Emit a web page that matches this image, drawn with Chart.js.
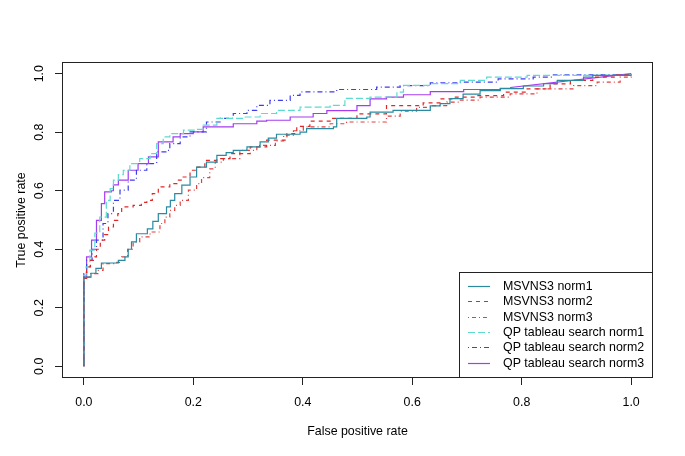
<!DOCTYPE html>
<html>
<head>
<meta charset="utf-8">
<title>ROC curves</title>
<script src="https://cdn.jsdelivr.net/npm/chart.js@4.4.1/dist/chart.umd.min.js"></script>
<style>
  html, body { margin: 0; padding: 0; background: #fff; }
  #rocChart { display: block; }
</style>
</head>
<body>
<canvas id="rocChart" width="685" height="456"></canvas>
<script>
// tick labels for both axes
const tickValues = [0, 0.2, 0.4, 0.6, 0.8, 1.0];

// ROC step points (fpr = x, tpr = y)
const msvns1Fpr = [0, 0, 0.013, 0.022, 0.032, 0.063, 0.075, 0.081, 0.087, 0.096, 0.116, 0.126, 0.136, 0.151, 0.158, 0.166, 0.179, 0.194, 0.206, 0.224, 0.243, 0.26, 0.273, 0.298, 0.322, 0.337, 0.352, 0.395, 0.407, 0.456, 0.462, 0.517, 0.523, 0.565, 0.633, 0.651, 0.669, 0.693, 0.724, 0.761, 0.803, 0.84, 0.865, 0.913, 0.93, 1];
const msvns1Tpr = [0, 0.305, 0.318, 0.335, 0.353, 0.362, 0.374, 0.4, 0.425, 0.453, 0.47, 0.495, 0.522, 0.545, 0.567, 0.59, 0.619, 0.647, 0.681, 0.698, 0.721, 0.73, 0.738, 0.75, 0.767, 0.78, 0.793, 0.8, 0.812, 0.818, 0.847, 0.852, 0.869, 0.875, 0.89, 0.898, 0.915, 0.93, 0.942, 0.949, 0.958, 0.966, 0.977, 0.988, 0.994, 1];

const msvns2Fpr = [0, 0, 0.005, 0.012, 0.02, 0.023, 0.03, 0.038, 0.045, 0.054, 0.062, 0.069, 0.09, 0.105, 0.115, 0.125, 0.136, 0.157, 0.17, 0.18, 0.194, 0.206, 0.221, 0.243, 0.267, 0.304, 0.334, 0.371, 0.389, 0.413, 0.45, 0.499, 0.553, 0.62, 0.651, 0.675, 0.72, 0.767, 0.81, 0.852, 0.889, 0.93, 0.974, 1];
const msvns2Tpr = [0, 0.3, 0.34, 0.362, 0.374, 0.4, 0.431, 0.45, 0.476, 0.499, 0.522, 0.545, 0.55, 0.56, 0.567, 0.59, 0.613, 0.624, 0.636, 0.647, 0.67, 0.681, 0.704, 0.71, 0.727, 0.75, 0.773, 0.795, 0.82, 0.838, 0.847, 0.863, 0.891, 0.9, 0.914, 0.92, 0.925, 0.937, 0.948, 0.965, 0.977, 0.988, 0.996, 1];

const msvns3Fpr = [0, 0, 0.011, 0.026, 0.035, 0.06, 0.069, 0.08, 0.09, 0.102, 0.121, 0.139, 0.148, 0.157, 0.166, 0.176, 0.191, 0.206, 0.215, 0.23, 0.24, 0.255, 0.285, 0.316, 0.35, 0.365, 0.383, 0.401, 0.45, 0.48, 0.553, 0.578, 0.608, 0.633, 0.663, 0.688, 0.724, 0.779, 0.828, 0.895, 0.938, 0.98, 1];
const msvns3Tpr = [0, 0.305, 0.317, 0.328, 0.351, 0.355, 0.374, 0.4, 0.425, 0.442, 0.459, 0.488, 0.51, 0.533, 0.55, 0.567, 0.602, 0.624, 0.645, 0.675, 0.698, 0.71, 0.738, 0.755, 0.77, 0.79, 0.805, 0.818, 0.829, 0.835, 0.855, 0.872, 0.885, 0.891, 0.903, 0.91, 0.92, 0.931, 0.948, 0.959, 0.971, 0.988, 1];

const qp1Fpr = [0, 0, 0.004, 0.011, 0.02, 0.029, 0.041, 0.048, 0.054, 0.063, 0.072, 0.084, 0.102, 0.121, 0.133, 0.145, 0.157, 0.182, 0.206, 0.218, 0.243, 0.291, 0.322, 0.352, 0.395, 0.45, 0.477, 0.523, 0.572, 0.584, 0.633, 0.688, 0.736, 0.81, 1];
const qp1Tpr = [0, 0.31, 0.34, 0.397, 0.455, 0.51, 0.567, 0.607, 0.636, 0.655, 0.67, 0.693, 0.71, 0.727, 0.761, 0.784, 0.795, 0.807, 0.81, 0.824, 0.847, 0.852, 0.864, 0.875, 0.886, 0.892, 0.916, 0.92, 0.937, 0.96, 0.966, 0.977, 0.988, 0.994, 1];

const qp2Fpr = [0, 0, 0.005, 0.015, 0.023, 0.035, 0.044, 0.054, 0.066, 0.081, 0.096, 0.115, 0.133, 0.151, 0.157, 0.176, 0.194, 0.224, 0.249, 0.273, 0.298, 0.316, 0.34, 0.377, 0.395, 0.462, 0.535, 0.578, 0.633, 0.688, 0.757, 0.821, 0.858, 1];
const qp2Tpr = [0, 0.317, 0.362, 0.4, 0.431, 0.488, 0.522, 0.567, 0.602, 0.636, 0.67, 0.693, 0.733, 0.738, 0.761, 0.784, 0.801, 0.835, 0.847, 0.864, 0.875, 0.892, 0.909, 0.926, 0.938, 0.946, 0.954, 0.959, 0.969, 0.971, 0.982, 0.988, 0.996, 1];

const qp3Fpr = [0, 0, 0.005, 0.014, 0.023, 0.032, 0.038, 0.05, 0.054, 0.063, 0.081, 0.099, 0.118, 0.136, 0.163, 0.176, 0.2, 0.218, 0.273, 0.316, 0.334, 0.377, 0.419, 0.444, 0.499, 0.523, 0.553, 0.584, 0.633, 0.694, 0.761, 0.78];
const qp3Tpr = [0, 0.305, 0.374, 0.431, 0.499, 0.556, 0.596, 0.6, 0.62, 0.636, 0.67, 0.693, 0.716, 0.767, 0.784, 0.795, 0.801, 0.818, 0.829, 0.838, 0.841, 0.852, 0.864, 0.874, 0.891, 0.914, 0.92, 0.928, 0.939, 0.946, 0.95, 0.953];
// last purple segment is a straight tie line to the corner
const qp3Tail = [1, 1];

const seriesNames = ['MSVNS3 norm1', 'MSVNS3 norm2', 'MSVNS3 norm3',
  'QP tableau search norm1', 'QP tableau search norm2', 'QP tableau search norm3'];

// turn step points into corner points (horizontal, then vertical)
function stairs(xs, ys) {
  const pts = [{ x: xs[0], y: ys[0] }];
  for (let i = 1; i < xs.length; i++) {
    pts.push({ x: xs[i], y: ys[i - 1] });
    pts.push({ x: xs[i], y: ys[i] });
  }
  return pts;
}

const qp3Points = stairs(qp3Fpr, qp3Tpr);
qp3Points.push({ x: qp3Tail[0], y: qp3Tail[1] });

const FONT = "'Liberation Sans', Arial, Helvetica, sans-serif";
const FONT_SIZE = 12.4;
Chart.defaults.font.family = FONT;
Chart.defaults.font.size = FONT_SIZE;
Chart.defaults.color = '#000';

function line(label, data, color, dash) {
  return {
    label: label,
    data: data,
    borderColor: color,
    borderDash: dash,
    borderWidth: 1.2,
    pointRadius: 0,
    fill: false,
    tension: 0
  };
}

// R style frame, rotated y labels and boxed legend
const rStyle = {
  id: 'rStyle',
  afterDraw(chart) {
    const ctx = chart.ctx;
    const ca = chart.chartArea;
    const yScale = chart.scales.y;
    ctx.save();
    ctx.strokeStyle = '#222';
    ctx.lineWidth = 1;
    ctx.setLineDash([]);
    ctx.strokeRect(Math.round(ca.left) + 0.5, Math.round(ca.top) + 0.5,
      Math.round(ca.right - ca.left) - 1, Math.round(ca.bottom - ca.top) - 1);

    // y tick labels, rotated like base graphics
    ctx.fillStyle = '#000';
    ctx.font = FONT_SIZE + 'px ' + FONT;
    ctx.textAlign = 'center';
    ctx.textBaseline = 'middle';
    tickValues.forEach(v => {
      const py = yScale.getPixelForValue(v);
      ctx.save();
      ctx.translate(40, py);
      ctx.rotate(-Math.PI / 2);
      ctx.fillText(v.toFixed(1), 0, 0);
      ctx.restore();
    });

    // legend in the bottom right corner
    const boxW = 194, boxH = 106;
    const bx = Math.round(ca.right) - boxW, by = Math.round(ca.bottom) - boxH;
    ctx.strokeRect(bx + 0.5, by + 0.5, boxW - 1, boxH - 1);
    ctx.textAlign = 'left';
    chart.data.datasets.forEach((ds, i) => {
      const ly = Math.round(by + 14 + i * 15.3) + 0.5;
      ctx.strokeStyle = ds.borderColor;
      ctx.lineWidth = 1.2;
      ctx.setLineDash(ds.borderDash || []);
      ctx.beginPath();
      ctx.moveTo(bx + 9, ly);
      ctx.lineTo(bx + 31, ly);
      ctx.stroke();
      ctx.fillText(ds.label, bx + 44, ly);
    });
    ctx.restore();
  }
};

const canvasElement = document.getElementById('rocChart');
const rocChart = new Chart(canvasElement, {
  type: 'line',
  data: {
    datasets: [
      line(seriesNames[0], stairs(msvns1Fpr, msvns1Tpr), '#2a8aa0', []),
      line(seriesNames[1], stairs(msvns2Fpr, msvns2Tpr), '#e02828', [4, 4]),
      line(seriesNames[2], stairs(msvns3Fpr, msvns3Tpr), '#e04040', [1, 3, 4, 3]),
      line(seriesNames[3], stairs(qp1Fpr, qp1Tpr), '#5cdcd0', [7, 3]),
      line(seriesNames[4], stairs(qp2Fpr, qp2Tpr), '#3c3cf0', [1, 3, 5, 3]),
      line(seriesNames[5], qp3Points, '#a43cf0', [])
    ]
  },
  options: {
    responsive: false,
    animation: false,
    devicePixelRatio: 1,
    layout: { padding: { top: 62, right: 32, left: 0, bottom: 0 } },
    plugins: {
      legend: { display: false },
      tooltip: { enabled: false }
    },
    scales: {
      x: {
        type: 'linear',
        min: -0.04,
        max: 1.04,
        afterBuildTicks: s => { s.ticks = tickValues.map(v => ({ value: v })); },
        afterFit: s => { s.height = 78; },
        ticks: {
          callback: v => v.toFixed(1),
          padding: 10,
          maxRotation: 0,
          autoSkip: false,
          color: '#000'
        },
        grid: {
          display: true,
          drawOnChartArea: false,
          drawTicks: true,
          tickLength: 7,
          color: '#222'
        },
        border: { display: false },
        title: {
          display: true,
          text: 'False positive rate',
          color: '#000',
          padding: { top: 0, bottom: 17 }
        }
      },
      y: {
        type: 'linear',
        min: -0.04,
        max: 1.04,
        afterBuildTicks: s => { s.ticks = tickValues.map(v => ({ value: v })); },
        afterFit: s => { s.width = 62; },
        ticks: { display: false },
        grid: {
          display: true,
          drawOnChartArea: false,
          drawTicks: true,
          tickLength: 7,
          color: '#222'
        },
        border: { display: false },
        title: {
          display: true,
          text: 'True positive rate',
          color: '#000',
          padding: { top: 14, bottom: 0 }
        }
      }
    }
  },
  plugins: [rStyle]
});
</script>
</body>
</html>
